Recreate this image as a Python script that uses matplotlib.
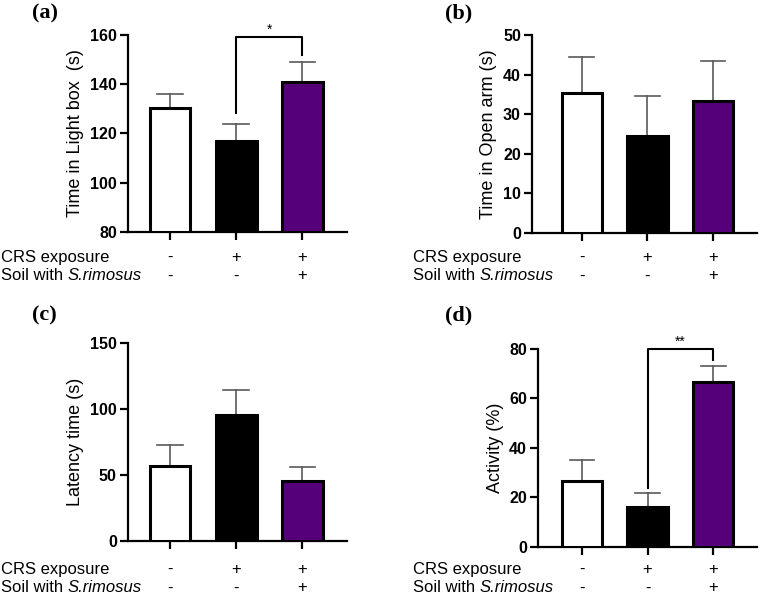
import numpy as np
import matplotlib.pyplot as plt
from matplotlib.transforms import blended_transform_factory

plt.rcParams['font.family'] = 'Liberation Sans'

# data
groups = [0, 1, 2]
crs_signs = ['-', '+', '+']
soil_signs = ['-', '-', '+']
bar_colors = ['white', 'black', '#55007a']

light_mean = [130.5, 117, 141]
light_err = [5.5, 7, 8]
open_mean = [35.3, 24.5, 33.3]
open_err = [9.2, 10, 10.2]
latency_mean = [56.5, 95.5, 45.5]
latency_err = [16, 19, 10.5]
activity_mean = [26.5, 16, 66.5]
activity_err = [8.5, 6, 6.5]

fig = plt.figure(figsize=(7.6, 5.97), dpi=100)


def panel(rect, xlim, means, errs, ylim, yticks, ylabel, letter, letter_xy, rows_y, sig=None):
    ax = fig.add_axes(rect)
    ax.bar(groups, np.array(means) - ylim[0], bottom=ylim[0], width=0.62,
           color=bar_colors, edgecolor='black', linewidth=2.2, zorder=3)
    # upper-only error bars
    for x, m, e in zip(groups, means, errs):
        ax.plot([x, x], [m, m + e], color='#5a5a5a', lw=1.2, zorder=2)
        ax.plot([x - 0.19, x + 0.19], [m + e, m + e], color='#5a5a5a', lw=1.2, zorder=2)
    ax.set_xlim(*xlim)
    ax.set_ylim(*ylim)
    ax.set_yticks(yticks)
    ax.set_yticklabels([str(t) for t in yticks], fontweight='bold', fontsize=11.5)
    ax.set_xticks(groups)
    ax.set_xticklabels([])
    ax.tick_params(axis='both', length=6, width=1.6)
    ax.tick_params(axis='y', pad=2)
    for s in ['top', 'right']:
        ax.spines[s].set_visible(False)
    for s in ['left', 'bottom']:
        ax.spines[s].set_linewidth(1.6)
    ax.set_ylabel(ylabel, fontsize=13, labelpad=4)

    # +/- treatment table under the bars
    tr = blended_transform_factory(ax.transData, fig.transFigure)
    for x, c, s in zip(groups, crs_signs, soil_signs):
        ax.text(x, rows_y[0], c, transform=tr, ha='center', va='center', fontsize=12)
        ax.text(x, rows_y[1], s, transform=tr, ha='center', va='center', fontsize=12)

    fig.text(letter_xy[0], letter_xy[1], letter, family='Liberation Serif',
             fontweight='bold', fontsize=16, ha='center', va='center')

    if sig is not None:
        x0, x1, ytop, yl, yr, stars = sig
        ax.plot([x0, x0, x1, x1], [yl, ytop, ytop, yr], color='black', lw=1.5,
                clip_on=False, zorder=4)
        ax.text((x0 + x1) / 2, ytop, stars, ha='center', va='bottom', fontsize=10,
                clip_on=False)
    return ax


def row_labels(x, rows_y):
    fig.text(x, rows_y[0], 'CRS exposure', fontsize=12, ha='left', va='center')
    t = fig.text(x, rows_y[1], 'Soil with ', fontsize=12, ha='left', va='center')
    fig.add_artist(plt.Annotation('S.rimosus', xy=(1, 0), xycoords=t, fontsize=12,
                                  style='italic', ha='left', va='bottom'))


top_rows = (0.5695, 0.5377)
bot_rows = (0.0469, 0.0151)

panel([0.1684, 0.6114, 0.2882, 0.33], (-0.636, 2.68), light_mean, light_err,
      (80, 160), [80, 100, 120, 140, 160], 'Time in Light box  (s)', '(a)', (0.059, 0.978),
      top_rows, sig=(1, 2, 159.2, 128.3, 151.9, '*'))
panel([0.7, 0.6097, 0.296, 0.3317], (-0.76, 2.67), open_mean, open_err,
      (0, 50), [0, 10, 20, 30, 40, 50], 'Time in Open arm (s)', '(b)', (0.603, 0.978),
      top_rows)
panel([0.1684, 0.0938, 0.2882, 0.3317], (-0.636, 2.68), latency_mean, latency_err,
      (0, 150), [0, 50, 100, 150], 'Latency time (s)', '(c)', (0.059, 0.472),
      bot_rows)
panel([0.708, 0.0838, 0.288, 0.3316], (-0.67, 2.67), activity_mean, activity_err,
      (0, 80), [0, 20, 40, 60, 80], 'Activity (%)', '(d)', (0.603, 0.472),
      bot_rows, sig=(1, 2, 80.2, 23.8, 75.5, '**'))

row_labels(0.001, top_rows)
row_labels(0.543, top_rows)
row_labels(0.001, bot_rows)
row_labels(0.543, bot_rows)

fig.savefig('out.png', dpi=100)
